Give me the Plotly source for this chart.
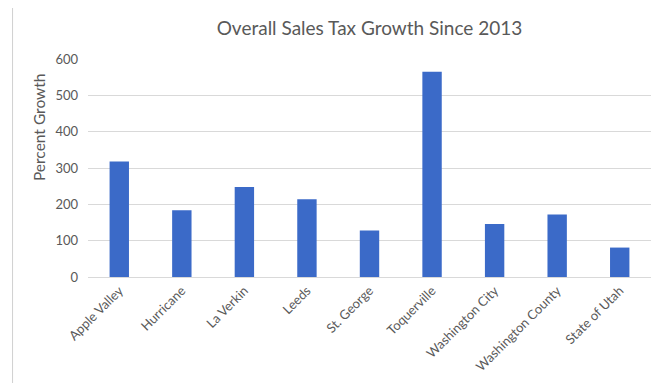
import plotly.graph_objects as go

# values
places = [
    "Apple Valley",
    "Hurricane",
    "La Verkin",
    "Leeds",
    "St. George",
    "Toquerville",
    "Washington City",
    "Washington County",
    "State of Utah",
]
growth_pct = [318, 184, 248, 214, 128, 565, 146, 172, 81]
y_ticks = [0, 100, 200, 300, 400, 500, 600]

FONT = "Lato"
GREY = "#595959"

fig = go.Figure(
    go.Bar(
        x=places,
        y=growth_pct,
        marker=dict(color="#3b6ac8", line=dict(width=0)),
        width=0.31,
    )
)

# page body has an 8px margin, so margins are shifted by that amount
fig.update_layout(
    width=669,
    height=383,
    margin=dict(l=80, r=26, t=51, b=114),
    paper_bgcolor="white",
    plot_bgcolor="white",
    showlegend=False,
    font=dict(family=FONT, color=GREY),
    title=dict(
        text="Overall Sales Tax Growth Since 2013",
        x=0.5,
        xref="paper",
        xanchor="center",
        y=1 - 20 / 383,
        yanchor="middle",
        font=dict(family=FONT, size=19, color=GREY),
    ),
)

fig.update_xaxes(
    tickangle=-45,
    tickfont=dict(family=FONT, size=13, color=GREY),
    showgrid=False,
    showline=True,
    linecolor="#d9d9d9",
    linewidth=1,
    ticks="",
)

fig.update_yaxes(
    range=[0, 600],
    tickvals=y_ticks,
    tickfont=dict(family=FONT, size=13, color=GREY),
    showgrid=True,
    gridcolor="#d9d9d9",
    gridwidth=1,
    zeroline=False,
    ticks="",
    ticklabelstandoff=9,
)

# y axis title sits above the middle of the plot in the original, so use an annotation
fig.add_annotation(
    text="Percent Growth",
    xref="paper",
    yref="paper",
    x=-0.087,
    y=0.688,
    xanchor="center",
    yanchor="middle",
    textangle=-90,
    showarrow=False,
    font=dict(family=FONT, size=15.5, color=GREY),
)

# chart frame (light grey border like the Excel chart area)
fig.add_shape(
    type="rect",
    xref="paper",
    yref="paper",
    x0=-0.134,
    x1=1.024,
    y0=-0.7,
    y1=1.259,
    line=dict(color="#d0d0d0", width=1),
    fillcolor="rgba(0,0,0,0)",
    layer="below",
)

fig.write_html("out.html")
